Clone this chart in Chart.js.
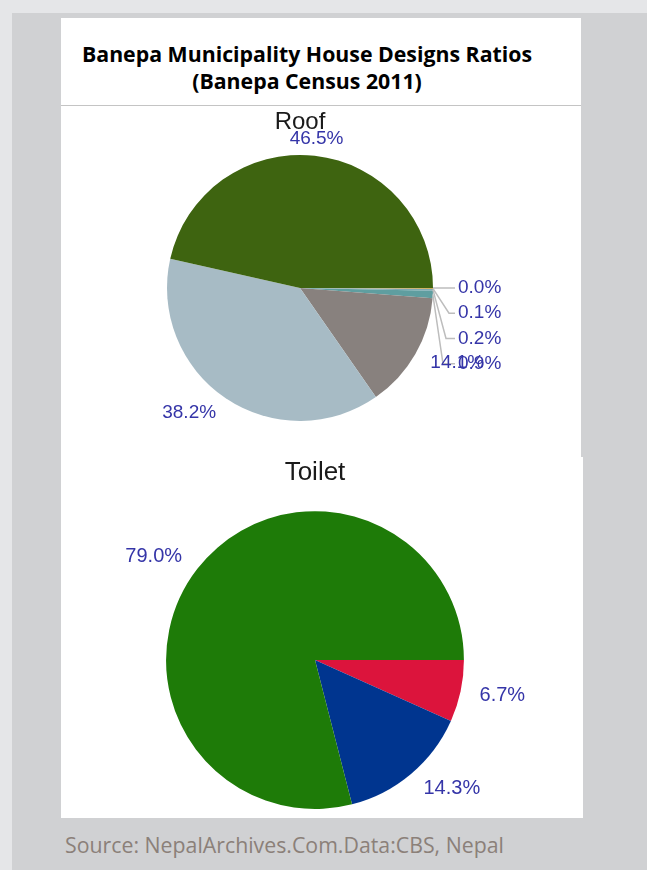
<!DOCTYPE html>
<html>
<head>
<meta charset="utf-8">
<script src="https://cdn.jsdelivr.net/npm/chart.js@4.4.0/dist/chart.umd.min.js"></script>
<style>
  html, body { margin: 0; padding: 0; }
  body { width: 647px; height: 870px; background: #e5e6e8; position: relative; overflow: hidden; }
  #panel { position: absolute; left: 12px; top: 13px; width: 635px; height: 857px; background: #d0d1d3; }
  #head { position: absolute; left: 61px; top: 18px; width: 520px; height: 87px; background: #fff; }
  #headText { position: absolute; left: 61px; top: 40px; width: 492px; text-align: center;
    font-family: "Open Sans", sans-serif; font-weight: 700; font-size: 21.3px; line-height: 27px; color: #000; }
  #roofBox { position: absolute; left: 61px; top: 105px; width: 520px; height: 352px; background: #fff; border-top: 1px solid #c4c4c4; box-sizing: border-box; }
  #toiletBox { position: absolute; left: 61px; top: 457px; width: 522px; height: 361px; background: #fff; }
  canvas { display: block; }
  #source { position: absolute; left: 65px; top: 830px; font-family: "Open Sans", sans-serif; font-size: 21.3px; color: #8b8079; }
</style>
</head>
<body>
<div id="panel"></div>
<div id="head"></div>
<div id="headText">Banepa Municipality House Designs Ratios<br>(Banepa Census 2011)</div>
<div id="roofBox"><canvas id="roof" width="520" height="351"></canvas></div>
<div id="toiletBox"><canvas id="toilet" width="522" height="361"></canvas></div>
<div id="source">Source: NepalArchives.Com.Data:CBS, Nepal</div>
<script>
// Roof shares (%), listed clockwise from 3 o'clock
const roofLabels = ["Other", "Thatch", "Wood", "Slate", "Concrete / RCC", "Tin / Zinc", "Tile"];
const roofValues = [0.04, 0.1, 0.2, 0.9, 14.1, 38.2, 46.5];
const roofColors = ["#e8891a", "#c9a23c", "#7fa8b4", "#5f9ea0", "#88817e", "#a7bbc5", "#3e6410"];

// Toilet shares (%)
const toiletLabels = ["None", "Ordinary", "Flush"];
const toiletValues = [6.7, 14.3, 79.0];
const toiletColors = ["#dc143c", "#00358f", "#1e7b08"];

const labelColor = "#3535a8";

function pieLabels(fontSize, factor) {
  return {
    id: "pieLabels",
    afterDatasetsDraw(chart) {
      const ctx = chart.ctx;
      const meta = chart.getDatasetMeta(0);
      const values = chart.data.datasets[0].data;
      ctx.save();
      ctx.font = fontSize + "px 'Liberation Sans', Arial, sans-serif";
      ctx.fillStyle = labelColor;
      ctx.textBaseline = "middle";
      let stack = 0;
      meta.data.forEach((arc, i) => {
        const mid = (arc.startAngle + arc.endAngle) / 2;
        const r = arc.outerRadius;
        const txt = values[i].toFixed(1) + "%";
        if (values[i] < 1) {
          // tiny slices: stacked labels with leader lines
          const lx = arc.x + r + 25;
          const ly = arc.y + stack * 25.3;
          const ex = arc.x + r * Math.cos(mid);
          const ey = arc.y + r * Math.sin(mid);
          const bx = lx - 6 - stack * 3;
          ctx.strokeStyle = "#bdbdbd";
          ctx.lineWidth = 1.5;
          ctx.beginPath();
          ctx.moveTo(ex, ey);
          ctx.lineTo(bx, ly);
          ctx.lineTo(lx - 3, ly);
          ctx.stroke();
          ctx.textAlign = "left";
          ctx.fillText(txt, lx, ly);
          stack++;
          return;
        }
        const c = Math.cos(mid);
        const x = arc.x + r * factor * c;
        const y = arc.y + r * factor * Math.sin(mid);
        ctx.textAlign = Math.abs(c) < 0.3 ? "center" : (c > 0 ? "left" : "right");
        ctx.fillText(txt, x, y);
      });
      ctx.restore();
    }
  };
}

function makePie(id, labels, values, colors, title, titleSize, titlePad, pad, fontSize) {
  return new Chart(document.getElementById(id), {
    type: "pie",
    data: {
      labels: labels,
      datasets: [{
        data: values,
        backgroundColor: colors,
        borderWidth: 0,
      }],
    },
    options: {
      responsive: false,
      animation: false,
      rotation: 90,
      layout: { padding: pad },
      plugins: {
        legend: { display: false },
        tooltip: { enabled: false },
        title: {
          display: true,
          text: title,
          color: "#1a1a1a",
          font: { family: "'Liberation Sans', Arial, sans-serif", size: titleSize, weight: "normal" },
          padding: titlePad,
        },
      },
    },
    plugins: [pieLabels(fontSize, 1.13)],
  });
}

makePie("roof", roofLabels, roofValues, roofColors, "Roof", 24,
  { top: 2, bottom: 18 }, { left: 106, right: 148, top: 0, bottom: 36 }, 19);
makePie("toilet", toiletLabels, toiletValues, toiletColors, "Toilet", 26,
  { top: 0, bottom: 23 }, { left: 105, right: 119, top: 0, bottom: 9 }, 20);
</script>
</body>
</html>
